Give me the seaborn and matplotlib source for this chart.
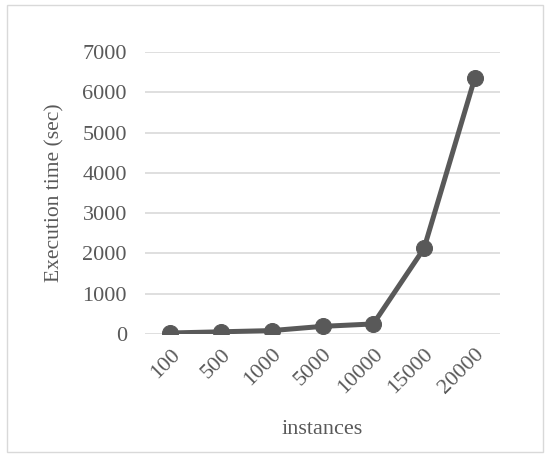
import seaborn as sns
import pandas as pd
from matplotlib import pyplot as plt
from matplotlib.patches import Rectangle

instances = ['100', '500', '1000', '5000', '10000', '15000', '20000']
exec_time = [25, 55, 85, 190, 250, 2125, 6350]

sns.set_style("white")
plt.rcParams['font.family'] = ['Liberation Serif', 'DejaVu Serif']

df = pd.DataFrame({'instances': instances, 'time': exec_time})

fig = plt.figure(figsize=(5.48, 4.54), dpi=100)
ax = fig.add_axes([0.2646, 0.2643, 0.648, 0.621])

sns.lineplot(data=df, x='instances', y='time', sort=False, ax=ax,
             color='#595959', linewidth=3.6, marker='o', markersize=11.5,
             markeredgecolor='#595959')

ax.set_ylim(0, 7000)
ax.set_xlim(-0.5, 6.5)
ax.set_yticks(range(0, 7001, 1000))
ax.yaxis.grid(True, color='#d9d9d9', linewidth=1.2)
ax.set_axisbelow(True)
for s in ax.spines.values():
    s.set_visible(False)
ax.tick_params(axis='both', length=0, labelsize=16, labelcolor='#595959')
ax.tick_params(axis='y', pad=13)
ax.tick_params(axis='x', pad=8)
plt.setp(ax.get_xticklabels(), rotation=45, ha='right', rotation_mode='anchor')

ax.set_xlabel('instances', fontsize=16, color='#595959', labelpad=16)
ax.set_ylabel('Execution time (sec)', fontsize=15.5, color='#595959', labelpad=13)

fig.patches.append(Rectangle((0.012, 0.005), 0.978, 0.984, transform=fig.transFigure,
                             fill=False, edgecolor='#d9d9d9', linewidth=1))

fig.savefig('out.png', dpi=100)
